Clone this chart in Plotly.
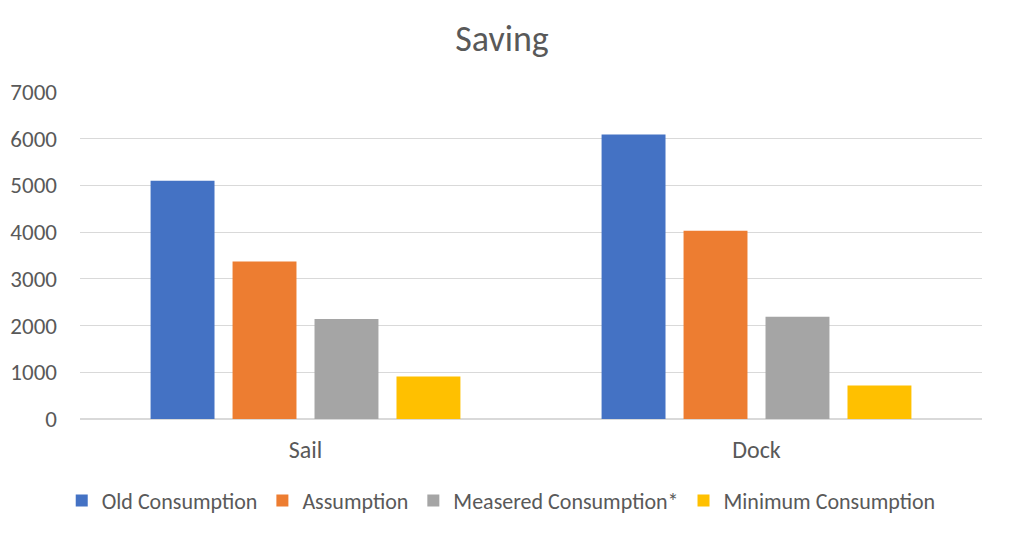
import plotly.graph_objects as go

categories = ["Sail", "Dock"]
series_names = ["Old Consumption", "Assumption", "Measered Consumption*", "Minimum Consumption"]
old_consumption = [5100, 6090]
assumption = [3370, 4030]
measured_consumption = [2140, 2190]
minimum_consumption = [910, 715]
colors = ["#4472C4", "#ED7D31", "#A5A5A5", "#FFC000"]
y_ticks = [0, 1000, 2000, 3000, 4000, 5000, 6000, 7000]

values = [old_consumption, assumption, measured_consumption, minimum_consumption]

fig = go.Figure()
for name, vals, col in zip(series_names, values, colors):
    fig.add_trace(go.Bar(x=categories, y=vals, name=name, marker=dict(color=col, line=dict(width=0))))

font_family = "Carlito, Calibri, Lato, sans-serif"
fig.update_layout(
    width=1002, height=526,
    paper_bgcolor="white", plot_bgcolor="white",
    margin=dict(l=72, r=28, t=84, b=115),
    title=dict(text="Saving", x=0.493, xanchor="center", xref="container",
               y=0.943, yanchor="middle", yref="container",
               font=dict(family=font_family, size=36, color="#595959")),
    barmode="group", bargap=0.273, bargroupgap=0.22,
    font=dict(family=font_family, color="#595959", size=23),
    xaxis=dict(showgrid=False, showline=True, linecolor="#d9d9d9", linewidth=1,
               tickfont=dict(size=24, color="#595959"), ticks="", ticklabelstandoff=9,
               automargin=False),
    yaxis=dict(range=[0, 7000], tickvals=y_ticks, showgrid=True, gridcolor="#d9d9d9",
               gridwidth=1, zeroline=True, zerolinecolor="#d9d9d9", showline=False,
               tickfont=dict(size=23, color="#595959"), ticks="", ticklabelstandoff=22,
               automargin=False),
    legend=dict(orientation="h", x=0.467, xanchor="center",
                y=-0.25, yanchor="middle",
                font=dict(size=22, color="#595959"), traceorder="normal",
                itemwidth=30),
)

fig.write_html("out.html")
